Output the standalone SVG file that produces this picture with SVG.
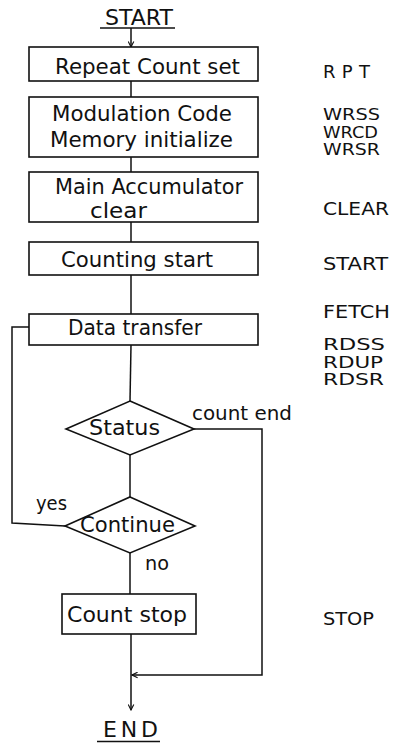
<svg xmlns="http://www.w3.org/2000/svg" width="393" height="744" viewBox="0 0 393 744">
<style>
.n{fill:#fff;stroke:#111;stroke-width:1.6}
.c{fill:none;stroke:#111;stroke-width:1.5}
text{font-family:"DejaVu Sans","Liberation Sans",sans-serif;fill:#111}
.t{font-size:22px}
.s{font-size:20px}
.r{font-size:18px}
.q{font-size:16px}
</style>
<defs>
<marker id="ah" viewBox="0 0 10 10" refX="9" refY="5" markerWidth="7" markerHeight="7" orient="auto" markerUnits="userSpaceOnUse">
<path d="M1,1 L9,5 L1,9" fill="none" stroke="#111" stroke-width="1.6"/>
</marker>
</defs>
<rect width="393" height="744" fill="#fff"/>
<g id="connectors">
<path class="c" d="M131,28 L131,47" marker-end="url(#ah)"/>
<path class="c" d="M131,81 L131,97"/>
<path class="c" d="M131,157 L131,172"/>
<path class="c" d="M131,222 L131,242"/>
<path class="c" d="M131,275 L131,314"/>
<path class="c" d="M131,345 L130,401"/>
<path class="c" d="M130,455 L130,497"/>
<path class="c" d="M130,553 L130,594"/>
<path class="c" d="M131,634 L131,710" marker-end="url(#ah)"/>
<path class="c" d="M194,429 L262,429 L262,675 L132,675" marker-end="url(#ah)"/>
<path class="c" d="M65,526 L12,523 L12,327 L29,327"/>
</g>
<g id="start-label">
<text class="t" x="105" y="25" font-size="21" textLength="68" lengthAdjust="spacingAndGlyphs">START</text>
<line class="c" x1="100" y1="28" x2="175" y2="28"/>
</g>
<g id="n1">
<rect class="n" x="29" y="47" width="229" height="34"/>
<text class="t" x="55" y="74" textLength="185" lengthAdjust="spacingAndGlyphs">Repeat Count set</text>
</g>
<g id="n2">
<rect class="n" x="29" y="97" width="229" height="60"/>
<text class="t" x="52" y="121" textLength="180" lengthAdjust="spacingAndGlyphs">Modulation Code</text>
<text class="t" x="50" y="147" textLength="183" lengthAdjust="spacingAndGlyphs">Memory initialize</text>
</g>
<g id="n3">
<rect class="n" x="29" y="172" width="229" height="50"/>
<text class="t" x="55" y="194" textLength="188" lengthAdjust="spacingAndGlyphs">Main Accumulator</text>
<text class="t" x="90" y="218" textLength="57" lengthAdjust="spacingAndGlyphs">clear</text>
</g>
<g id="n4">
<rect class="n" x="29" y="242" width="229" height="33"/>
<text class="t" x="61" y="267" textLength="152" lengthAdjust="spacingAndGlyphs">Counting start</text>
</g>
<g id="n5">
<rect class="n" x="29" y="314" width="229" height="31"/>
<text class="t" x="68" y="335" textLength="134" lengthAdjust="spacingAndGlyphs">Data transfer</text>
</g>
<g id="n6">
<polygon class="n" points="130,401 194,429 130,455 66,429"/>
<text class="t" x="89" y="435" textLength="71" lengthAdjust="spacingAndGlyphs">Status</text>
</g>
<g id="n7">
<polygon class="n" points="130,497 195,526 130,553 65,526"/>
<text class="t" x="80" y="532" textLength="95" lengthAdjust="spacingAndGlyphs">Continue</text>
</g>
<g id="n8">
<rect class="n" x="62" y="594" width="134" height="40"/>
<text class="t" x="67" y="622" textLength="120" lengthAdjust="spacingAndGlyphs">Count stop</text>
</g>
<g id="end-label">
<text class="t" x="103" y="737" font-size="21" textLength="55" lengthAdjust="spacing">END</text>
<line class="c" x1="97" y1="741.5" x2="160" y2="741.5"/>
</g>
<g id="edge-labels">
<text class="s" x="192" y="420" textLength="100" lengthAdjust="spacingAndGlyphs">count end</text>
<text class="s" x="36" y="510" textLength="31" lengthAdjust="spacingAndGlyphs">yes</text>
<text class="s" x="145" y="570" textLength="24" lengthAdjust="spacingAndGlyphs">no</text>
</g>
<g id="commands">
<text class="r" x="323" y="78" textLength="47" lengthAdjust="spacing">RPT</text>
<text class="q" x="323" y="120" textLength="57" lengthAdjust="spacingAndGlyphs">WRSS</text>
<text class="q" x="323" y="137.5" textLength="55" lengthAdjust="spacingAndGlyphs">WRCD</text>
<text class="q" x="323" y="155" textLength="57" lengthAdjust="spacingAndGlyphs">WRSR</text>
<text class="r" x="323" y="215" textLength="66" lengthAdjust="spacingAndGlyphs">CLEAR</text>
<text class="r" x="323" y="270" textLength="65" lengthAdjust="spacingAndGlyphs">START</text>
<text class="r" x="323" y="318" textLength="67" lengthAdjust="spacingAndGlyphs">FETCH</text>
<text class="q" x="323" y="350" textLength="62" lengthAdjust="spacingAndGlyphs">RDSS</text>
<text class="q" x="323" y="367.5" textLength="60" lengthAdjust="spacingAndGlyphs">RDUP</text>
<text class="q" x="323" y="385" textLength="61" lengthAdjust="spacingAndGlyphs">RDSR</text>
<text class="r" x="323" y="625" textLength="51" lengthAdjust="spacingAndGlyphs">STOP</text>
</g>
</svg>
